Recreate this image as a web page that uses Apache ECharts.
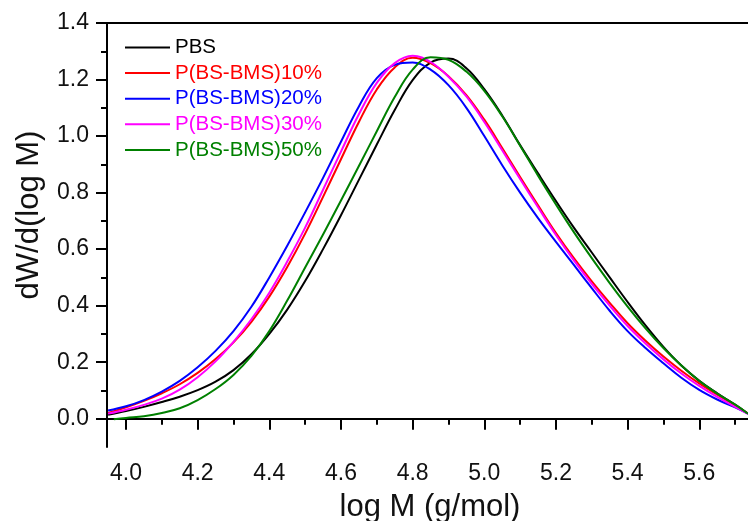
<!DOCTYPE html>
<html>
<head>
<meta charset="utf-8">
<script src="https://cdn.jsdelivr.net/npm/echarts@6/dist/echarts.min.js"></script>
<style>html,body{margin:0;padding:0;background:#fff}#c{width:748px;height:521px}</style>
</head>
<body>
<div id="c"></div>
<script>
const seriesNames = ['PBS', 'P(BS-BMS)10%', 'P(BS-BMS)20%', 'P(BS-BMS)30%', 'P(BS-BMS)50%'];
const seriesColors = ['#000000', '#ff0000', '#0000ff', '#ff00ff', '#008000'];

const logM = [3.95, 4.00, 4.05, 4.10, 4.15, 4.20, 4.25, 4.30, 4.35, 4.40, 4.45, 4.50, 4.55, 4.60, 4.65, 4.70, 4.75, 4.80, 4.85, 4.90, 4.95, 5.00, 5.05, 5.10, 5.15, 5.20, 5.25, 5.30, 5.35, 5.40, 5.45, 5.50, 5.55, 5.60, 5.65, 5.70, 5.736];
const logM50 = [3.966, 4.00, 4.05, 4.10, 4.15, 4.20, 4.25, 4.30, 4.35, 4.40, 4.45, 4.50, 4.55, 4.60, 4.65, 4.70, 4.75, 4.80, 4.85, 4.90, 4.95, 5.00, 5.05, 5.10, 5.15, 5.20, 5.25, 5.30, 5.35, 5.40, 5.45, 5.50, 5.55, 5.60, 5.65, 5.70, 5.736];

const pbs = [0.014, 0.027, 0.042, 0.059, 0.078, 0.101, 0.131, 0.172, 0.228, 0.300, 0.386, 0.487, 0.600, 0.720, 0.845, 0.970, 1.092, 1.198, 1.260, 1.274, 1.240, 1.166, 1.073, 0.968, 0.868, 0.770, 0.676, 0.588, 0.500, 0.413, 0.330, 0.254, 0.188, 0.134, 0.090, 0.050, 0.018];
const bms10 = [0.020, 0.040, 0.063, 0.090, 0.122, 0.162, 0.211, 0.270, 0.343, 0.432, 0.537, 0.655, 0.785, 0.918, 1.050, 1.165, 1.243, 1.277, 1.258, 1.212, 1.145, 1.058, 0.958, 0.855, 0.755, 0.657, 0.568, 0.486, 0.410, 0.338, 0.276, 0.220, 0.170, 0.125, 0.085, 0.047, 0.019];
const bms20 = [0.029, 0.044, 0.066, 0.096, 0.134, 0.182, 0.240, 0.310, 0.396, 0.500, 0.612, 0.730, 0.852, 0.980, 1.105, 1.205, 1.252, 1.260, 1.235, 1.180, 1.100, 1.000, 0.897, 0.800, 0.710, 0.626, 0.544, 0.462, 0.382, 0.310, 0.250, 0.196, 0.145, 0.102, 0.068, 0.040, 0.018];
const bms30 = [0.018, 0.032, 0.049, 0.071, 0.103, 0.147, 0.203, 0.272, 0.352, 0.446, 0.556, 0.676, 0.810, 0.945, 1.077, 1.188, 1.258, 1.284, 1.262, 1.210, 1.140, 1.050, 0.950, 0.848, 0.748, 0.650, 0.560, 0.477, 0.400, 0.328, 0.266, 0.210, 0.160, 0.116, 0.077, 0.042, 0.017];
const bms50 = [-0.002, 0.003, 0.009, 0.020, 0.037, 0.066, 0.105, 0.155, 0.222, 0.310, 0.418, 0.535, 0.652, 0.772, 0.894, 1.017, 1.138, 1.235, 1.279, 1.270, 1.228, 1.160, 1.070, 0.966, 0.860, 0.758, 0.660, 0.568, 0.480, 0.397, 0.320, 0.250, 0.188, 0.134, 0.089, 0.050, 0.018];

const xMajorTicks = [4.0, 4.2, 4.4, 4.6, 4.8, 5.0, 5.2, 5.4, 5.6];
const xMinorTicks = [4.1, 4.3, 4.5, 4.7, 4.9, 5.1, 5.3, 5.5, 5.7];
const yMajorTicks = [0.0, 0.2, 0.4, 0.6, 0.8, 1.0, 1.2, 1.4];
const yMinorTicks = [0.1, 0.3, 0.5, 0.7, 0.9, 1.1, 1.3];

const xTitle = 'log M (g/mol)';
const yTitle = 'dW/d(log M)';

const FONT = '"Liberation Sans", Arial, Helvetica, sans-serif';
const xs = [logM, logM, logM, logM, logM50];
const ys = [pbs, bms10, bms20, bms30, bms50];

const chart = echarts.init(document.getElementById('c'), null, {renderer: 'canvas'});
const axisLine = {show: true, lineStyle: {color: '#000', width: 2}};
const xBase = {type: 'value', min: 3.947, max: 5.736, splitLine: {show: false}};
const yBase = {type: 'value', min: -0.1, max: 1.4, splitLine: {show: false}};

chart.setOption({
  backgroundColor: '#ffffff',
  animation: false,
  grid: {left: 107, right: 0, top: 23, bottom: 74},
  xAxis: [
    Object.assign({}, xBase, {
      position: 'bottom', axisLine: axisLine,
      axisTick: {show: true, length: 11, inside: false, lineStyle: {color: '#000', width: 2}, customValues: xMajorTicks},
      axisLabel: {show: true, customValues: xMajorTicks, margin: 15, fontSize: 23, color: '#111', fontFamily: FONT, formatter: v => v.toFixed(1)}
    }),
    Object.assign({}, xBase, {
      position: 'bottom', axisLine: {show: false},
      axisTick: {show: true, length: 6, inside: false, lineStyle: {color: '#000', width: 2}, customValues: xMinorTicks},
      axisLabel: {show: false}
    }),
    Object.assign({}, xBase, {
      position: 'top', axisLine: axisLine, axisTick: {show: false}, axisLabel: {show: false}
    })
  ],
  yAxis: [
    Object.assign({}, yBase, {
      position: 'left', axisLine: axisLine,
      axisTick: {show: true, length: 11, inside: false, lineStyle: {color: '#000', width: 2}, customValues: yMajorTicks},
      axisLabel: {show: true, customValues: yMajorTicks, margin: 18, fontSize: 23, color: '#111', fontFamily: FONT, formatter: v => v.toFixed(1)}
    }),
    Object.assign({}, yBase, {
      position: 'left', axisLine: {show: false},
      axisTick: {show: true, length: 6, inside: false, lineStyle: {color: '#000', width: 2}, customValues: yMinorTicks},
      axisLabel: {show: false}
    })
  ],
  legend: {
    left: 120, top: 32, orient: 'vertical', icon: 'rect', itemWidth: 45, itemHeight: 2, itemGap: 4.6,
    textStyle: {fontSize: 20.5, fontFamily: FONT, lineHeight: 20},
    data: seriesNames.map((n, i) => ({name: n, textStyle: {color: seriesColors[i]}, itemStyle: {color: seriesColors[i]}}))
  },
  graphic: [
    {type: 'text', style: {text: xTitle, font: '31px ' + FONT, fill: '#111', textAlign: 'center', textVerticalAlign: 'middle'}, x: 430, y: 507, silent: true},
    {type: 'text', style: {text: yTitle, font: '31px ' + FONT, fill: '#111', textAlign: 'center', textVerticalAlign: 'middle'}, x: 29, y: 215, rotation: Math.PI / 2, silent: true}
  ],
  series: seriesNames.map((n, i) => ({
    name: n, type: 'line', xAxisIndex: 0, yAxisIndex: 0,
    data: xs[i].map((x, j) => [x, ys[i][j]]),
    smooth: 0.4, symbol: 'none', showSymbol: false,
    lineStyle: {color: seriesColors[i], width: 2}, itemStyle: {color: seriesColors[i]},
    clip: true
  }))
});
</script>
</body>
</html>
